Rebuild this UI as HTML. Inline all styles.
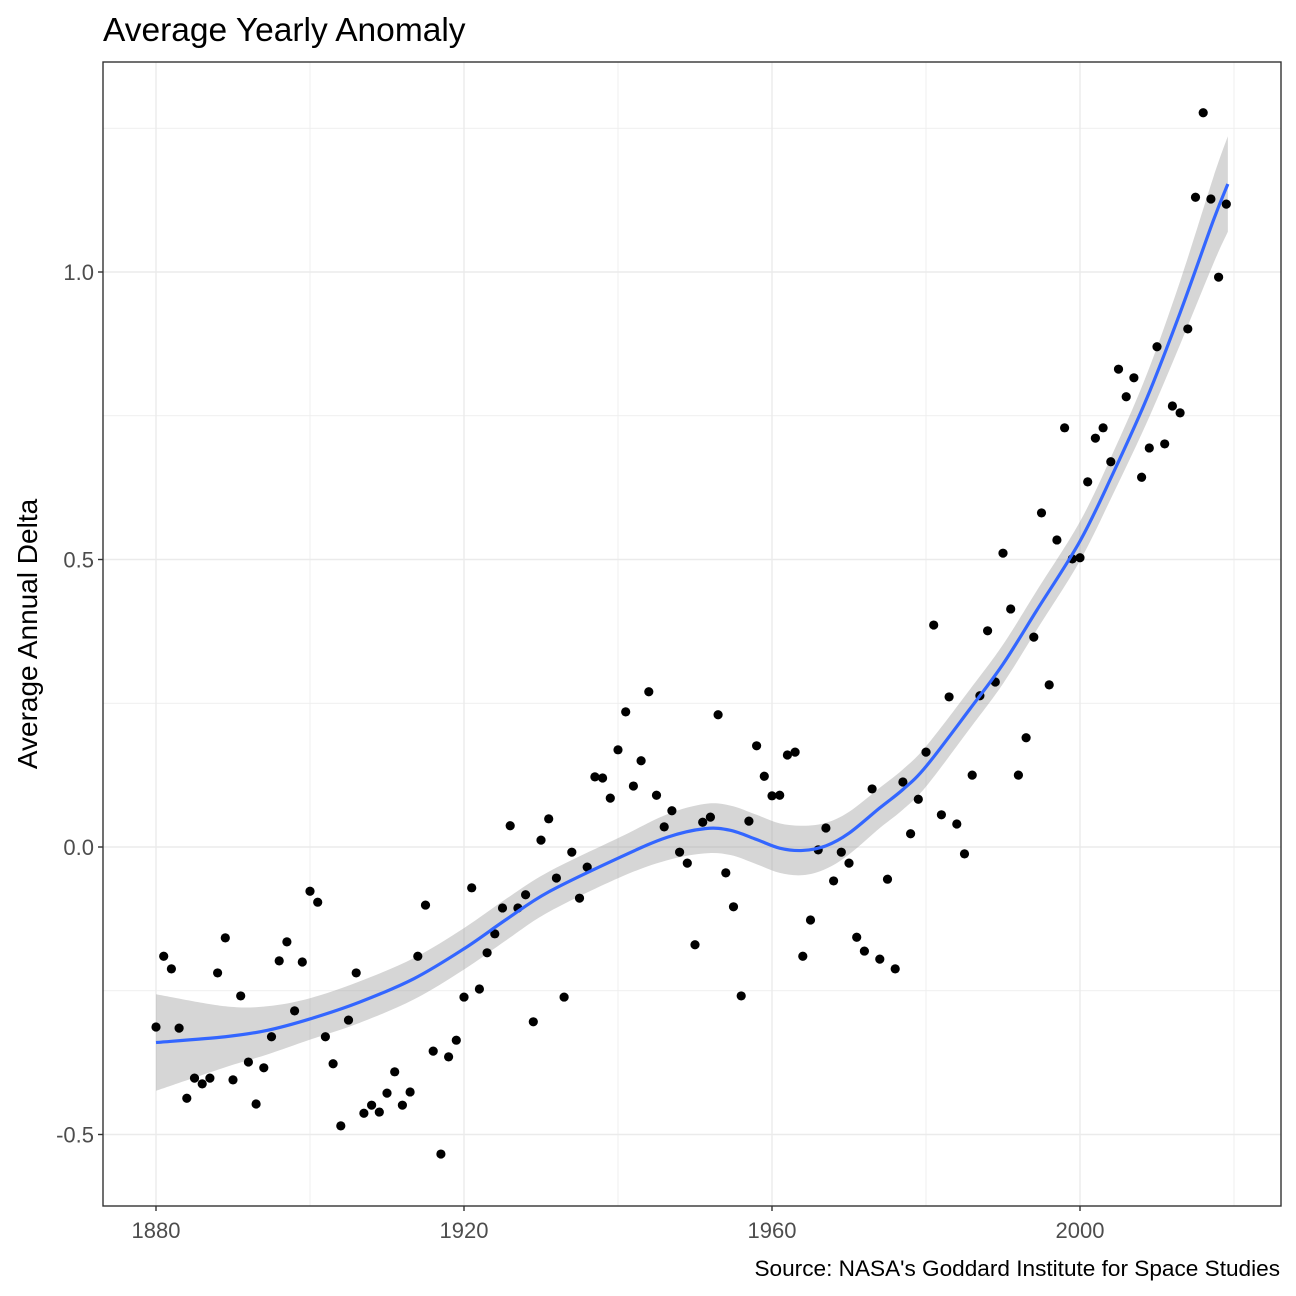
<!DOCTYPE html>
<html><head><meta charset="utf-8"><style>
body{margin:0;background:#fff;}
svg{display:block;font-family:"Liberation Sans",sans-serif;}
</style></head><body>
<svg id="chart" width="1296" height="1296">
<text x="103" y="41" font-size="33.5" fill="#000">Average Yearly Anomaly</text>
<text x="1280" y="1276" font-size="22.6" fill="#000" text-anchor="end">Source: NASA's Goddard Institute for Space Studies</text>
<text transform="translate(37,634) rotate(-90)" font-size="28" text-anchor="middle" fill="#000">Average Annual Delta</text>
<g id="grid"></g><g id="ribbon"></g><g id="pts"></g><g id="line"></g><g id="axes"></g>
</svg>
<script>
const startYear = 1880;
const values = [-0.313,-0.19,-0.212,-0.315,-0.437,-0.402,-0.412,-0.402,-0.219,-0.158,
-0.405,-0.259,-0.374,-0.447,-0.384,-0.33,-0.198,-0.165,-0.285,-0.2,
-0.077,-0.096,-0.33,-0.377,-0.485,-0.301,-0.219,-0.463,-0.449,-0.461,
-0.428,-0.391,-0.449,-0.426,-0.19,-0.101,-0.355,-0.534,-0.365,-0.336,
-0.261,-0.071,-0.247,-0.184,-0.151,-0.106,0.037,-0.106,-0.083,-0.304,
0.012,0.049,-0.054,-0.261,-0.009,-0.089,-0.035,0.122,0.12,0.085,
0.169,0.235,0.106,0.15,0.27,0.09,0.035,0.063,-0.009,-0.028,
-0.17,0.043,0.052,0.23,-0.045,-0.104,-0.259,0.045,0.176,0.123,
0.089,0.09,0.16,0.165,-0.19,-0.127,-0.005,0.033,-0.059,-0.009,
-0.028,-0.157,-0.181,0.101,-0.195,-0.056,-0.212,0.113,0.023,0.083,
0.165,0.386,0.056,0.261,0.04,-0.012,0.125,0.263,0.376,0.287,
0.511,0.414,0.125,0.19,0.365,0.581,0.282,0.534,0.729,0.501,
0.503,0.635,0.711,0.729,0.67,0.831,0.783,0.816,0.643,0.694,
0.87,0.701,0.767,0.755,0.901,1.13,1.277,1.127,0.991,1.118];
const smoothYears = [1880,1889,1894.4,1900,1906.4,1913.5,1920,1925.6,1931,1940.4,1946.4,1951.3,1954.6,1958,1961,1964,1967,1970,1974,1977,1980,1985.7,1990,1994.4,2000,2004.3,2008.7,2013,2017.3,2019.2];
const smoothVals  = [-0.340,-0.330,-0.319,-0.299,-0.270,-0.229,-0.177,-0.125,-0.078,-0.017,0.017,0.032,0.029,0.013,-0.002,-0.006,0.002,0.024,0.068,0.1,0.14,0.24,0.318,0.412,0.532,0.65,0.781,0.929,1.089,1.153];
const smoothSE    = [0.084,0.053,0.042,0.036,0.036,0.036,0.036,0.036,0.035,0.035,0.04,0.043,0.043,0.043,0.043,0.043,0.04,0.037,0.035,0.035,0.035,0.034,0.034,0.034,0.034,0.036,0.042,0.055,0.075,0.083];
const xTicks = [1880,1920,1960,2000];
const yTicks = [-0.5,0.0,0.5,1.0];
const yTickLabels = ["-0.5","0.0","0.5","1.0"];

const NS="http://www.w3.org/2000/svg";
const L=103,R=1281,T=62,B=1206;
const xs=y=>156+(y-1880)*7.7;
const ys=v=>847-v*575;
function mk(tag,attrs,parent){const e=document.createElementNS(NS,tag);for(const k in attrs)e.setAttribute(k,attrs[k]);document.getElementById(parent).appendChild(e);return e;}
function spline(P,start){let d=(start?'M':'L')+P[0];
 for(let i=0;i<P.length-1;i++){const p0=P[Math.max(0,i-1)],p1=P[i],p2=P[i+1],p3=P[Math.min(P.length-1,i+2)];
  d+=' C'+(p1[0]+(p2[0]-p0[0])/6)+','+(p1[1]+(p2[1]-p0[1])/6)+' '+(p2[0]-(p3[0]-p1[0])/6)+','+(p2[1]-(p3[1]-p1[1])/6)+' '+p2;}
 return d;}

for(let y=1860;y<=2040;y+=20){const X=xs(y);if(X<L||X>R)continue;
 const g=mk('line',{x1:X,x2:X,y1:T,y2:B,stroke:'#ebebeb','stroke-width':y%40===0?1.4:0.8},'grid');
 
 }
for(let v=-0.75;v<=1.5;v+=0.25){const Y=ys(v);if(Y<T||Y>B)continue;
 const g=mk('line',{x1:L,x2:R,y1:Y,y2:Y,stroke:'#ebebeb','stroke-width':Math.abs(v*2-Math.round(v*2))<1e-6?1.4:0.8},'grid');
 
 }

const up=smoothYears.map((y,i)=>[xs(y),ys(smoothVals[i]+smoothSE[i])]);
const dn=smoothYears.map((y,i)=>[xs(y),ys(smoothVals[i]-smoothSE[i])]).reverse();
const rib=mk('path',{d:spline(up,true)+' '+spline(dn,false)+' Z',fill:'#999','fill-opacity':0.4},'ribbon');



values.forEach((v,i)=>{const c=mk('circle',{cx:xs(startYear+i),cy:ys(v),r:4.6,fill:'#000'},'pts');
 
 });

const P=smoothYears.map((y,i)=>[xs(y),ys(smoothVals[i])]);
const ln=mk('path',{d:spline(P,true),fill:'none',stroke:'#3366ff','stroke-width':3.2},'line');



const bd=mk('rect',{x:L,y:T,width:R-L,height:B-T,fill:'none',stroke:'#333','stroke-width':1.4},'axes');


xTicks.forEach(t=>{const X=xs(t);
 mk('line',{x1:X,x2:X,y1:B,y2:B+5,stroke:'#333','stroke-width':1.4},'axes');
 const tx=mk('text',{x:X,y:B+32,'font-size':22,fill:'#4d4d4d','text-anchor':'middle'},'axes');tx.textContent=t;
 
 });
yTicks.forEach((t,i)=>{const Y=ys(t);
 mk('line',{x1:L-5,x2:L,y1:Y,y2:Y,stroke:'#333','stroke-width':1.4},'axes');
 const tx=mk('text',{x:L-9,y:Y+8,'font-size':22,fill:'#4d4d4d','text-anchor':'end'},'axes');tx.textContent=yTickLabels[i];
 
 });
</script>
</body></html>
